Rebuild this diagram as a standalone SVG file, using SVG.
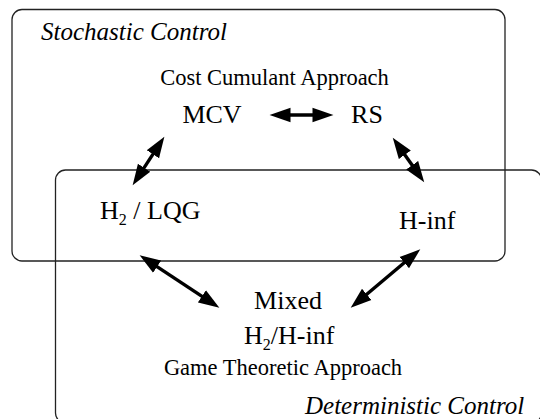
<svg xmlns="http://www.w3.org/2000/svg" width="540" height="419" viewBox="0 0 540 419">
<style>
.box{fill:none;stroke:#222;stroke-width:1.3}
.lbl{font-family:"Liberation Serif","Times New Roman",serif;fill:#000}
.it{font-style:italic;font-size:25px}
.node{font-size:26px}
.appr{font-size:22.5px}
.sub{font-size:16px}
.conn{stroke:#000;stroke-width:3.4;fill:none;marker-start:url(#ah);marker-end:url(#ah)}
</style>
<defs>
<marker id="ah" markerUnits="userSpaceOnUse" markerWidth="22" markerHeight="16" refX="11" refY="7" orient="auto-start-reverse" viewBox="0 0 21 14">
<path d="M0,0 L20,7 L0,14 z" fill="#000"/>
</marker>
</defs>
<g id="stochastic">
<rect class="box" x="12" y="9.5" width="493" height="251.5" rx="10"/>
<text class="lbl it" x="41" y="40">Stochastic Control</text>
<text class="lbl appr" x="274.5" y="85" text-anchor="middle">Cost Cumulant Approach</text>
</g>
<g id="deterministic">
<rect class="box" x="55.5" y="170" width="486" height="253" rx="10"/>
<text class="lbl it" x="305" y="414">Deterministic Control</text>
<text class="lbl appr" x="283" y="375" text-anchor="middle">Game Theoretic Approach</text>
</g>
<g id="mcv"><text class="lbl node" x="212" y="123" text-anchor="middle">MCV</text></g>
<g id="rs"><text class="lbl node" x="367" y="123" text-anchor="middle">RS</text></g>
<g id="h2lqg"><text class="lbl node" x="100" y="219">H<tspan class="sub" dy="6">2</tspan><tspan dy="-6"> / LQG</tspan></text></g>
<g id="hinf"><text class="lbl node" x="399" y="229">H-inf</text></g>
<g id="mixed">
<text class="lbl node" x="288" y="309" text-anchor="middle">Mixed</text>
<text class="lbl node" x="244" y="344">H<tspan class="sub" dy="6">2</tspan><tspan dy="-6">/H-inf</tspan></text>
</g>
<g id="connectors">
<line class="conn" x1="279" y1="115" x2="324" y2="115"/>
<line class="conn" x1="159.2" y1="144.6" x2="137.8" y2="177.4"/>
<line class="conn" x1="398.2" y1="145.4" x2="418.8" y2="174.6"/>
<line class="conn" x1="147.5" y1="260.4" x2="211.5" y2="302.6"/>
<line class="conn" x1="413.1" y1="255.3" x2="357.9" y2="301.7"/>
</g>
</svg>
